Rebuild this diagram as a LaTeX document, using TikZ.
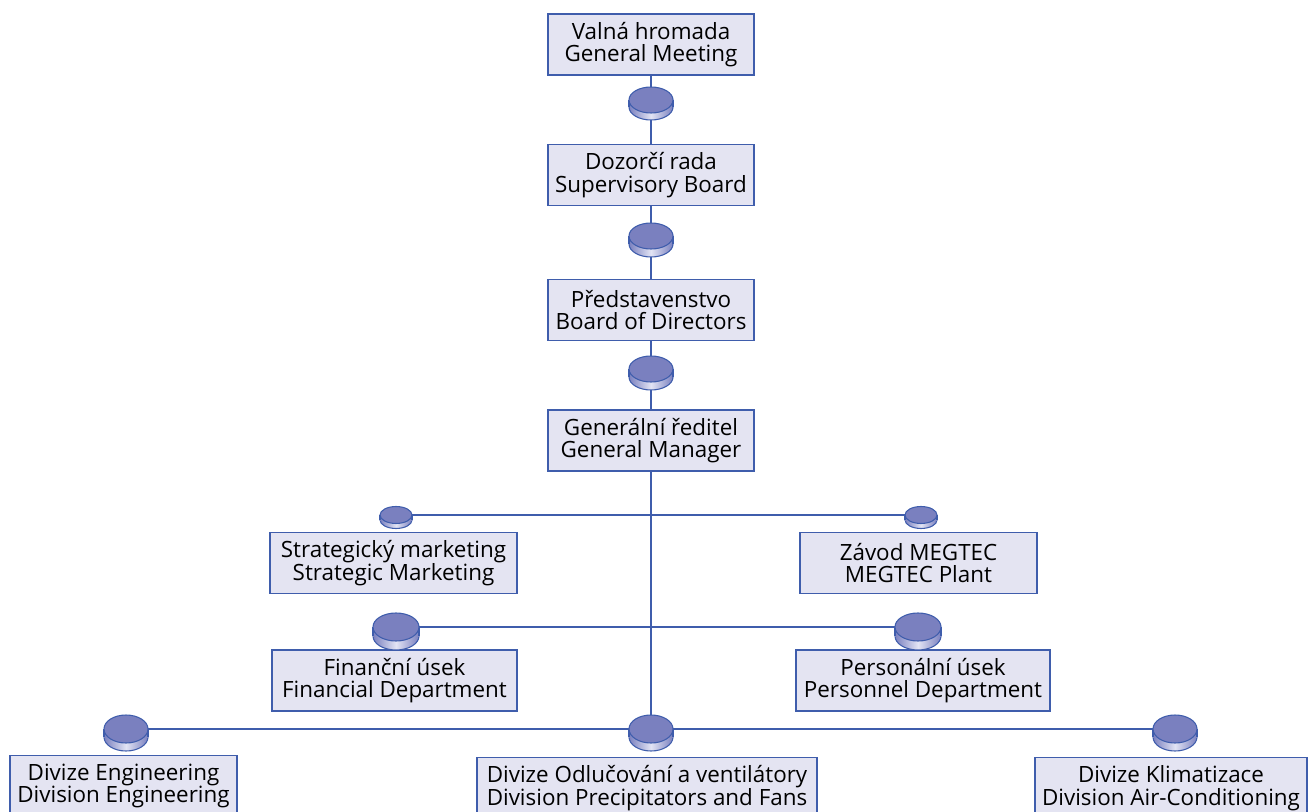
\documentclass[tikz,border=0pt]{standalone}
\usepackage{fontspec}
\setmainfont{Open Sans}
\definecolor{boxfill}{HTML}{E4E4F2}
\definecolor{bordc}{HTML}{3F5DAC}
\definecolor{disctop}{HTML}{7A80BF}
\definecolor{discside}{HTML}{7A80BF}
\definecolor{disclight}{HTML}{E2E4F4}
\tikzset{
  box/.style={draw=bordc, fill=boxfill, line width=1.1pt, inner sep=0pt,
    minimum height=45.75pt, minimum width={#1*0.75pt}, align=center,
    font=\fontsize{16.8pt}{17pt}\selectfont},
  conn/.style={draw=bordc, line width=1.1pt},
  discedge/.style={draw=bordc, line width=0.8pt}
}
\newcommand\mydisc[4]{%
  \begin{scope}[shift={(#1)}]
    \shade[left color=discside, right color=discside, middle color=disclight]
      (0,#4) ellipse [x radius=#2, y radius=#3];
    \draw[discedge] (0,#4) ellipse [x radius=#2, y radius=#3];
    \shade[left color=discside, right color=discside, middle color=disclight]
      (-#2,0) rectangle (#2,#4);
    \draw[discedge] (-#2,0) -- (-#2,#4) (#2,0) -- (#2,#4);
    \draw[discedge, fill=disctop] (0,0) ellipse [x radius=#2, y radius=#3];
  \end{scope}}
\begin{document}
\begin{tikzpicture}[x=0.75pt, y=-0.75pt]
\useasboundingbox (0,0) rectangle (1309,812);
\clip (0,0) rectangle (1309,812);
% boxes
\node[box=206] (v1) at (651,44.5) {Valná hromada\\General Meeting};
\node[box=206] (v2) at (651,175) {Dozorčí rada\\Supervisory Board};
\node[box=206] (v3) at (651,310) {Představenstvo\\Board of Directors};
\node[box=206] (v4) at (651,440.5) {Generální ředitel\\General Manager};
\node[box=247] (sm) at (393.5,563) {Strategický marketing\\Strategic Marketing};
\node[box=237] (zm) at (918.5,563) {Závod MEGTEC\\MEGTEC Plant};
\node[box=245] (fu) at (394.5,680.5) {Finanční úsek\\Financial Department};
\node[box=254] (pu) at (923,680.5) {Personální úsek\\Personnel Department};
\node[box=227] (de) at (123.5,786) {Divize Engineering\\Division Engineering};
\node[box=340] (dv) at (647,788) {Divize Odlučování a ventilátory\\Division Precipitators and Fans};
\node[box=272] (dk) at (1171,788) {Divize Klimatizace\\Division Air-Conditioning};
% junction points
\coordinate (d1) at (651,100);
\coordinate (d2) at (651,236);
\coordinate (d3) at (651,369);
\coordinate (s1) at (396,515);
\coordinate (s2) at (921,515);
\coordinate (m1) at (396,627);
\coordinate (m2) at (918,627);
\coordinate (b1) at (126,729);
\coordinate (b2) at (651,729);
\coordinate (b3) at (1175,729);
% connectors
\draw[conn] (v1.south) -- (v2.north);
\draw[conn] (v2.south) -- (v3.north);
\draw[conn] (v3.south) -- (v4.north);
\draw[conn] (v4.south) -- (b2);
\draw[conn] (s1) -- (s2);
\draw[conn] (m1) -- (m2);
\draw[conn] (b1) -- (b3);
% discs
\mydisc{d1}{22}{13}{7}
\mydisc{d2}{22}{13}{8}
\mydisc{d3}{22}{13}{8}
\mydisc{s1}{16}{8.5}{5}
\mydisc{s2}{16}{8.5}{5}
\mydisc{m1}{23}{14}{9}
\mydisc{m2}{23}{14}{9}
\mydisc{b1}{22}{14}{8}
\mydisc{b2}{22}{14}{8}
\mydisc{b3}{22}{14}{8}
\end{tikzpicture}
\end{document}
